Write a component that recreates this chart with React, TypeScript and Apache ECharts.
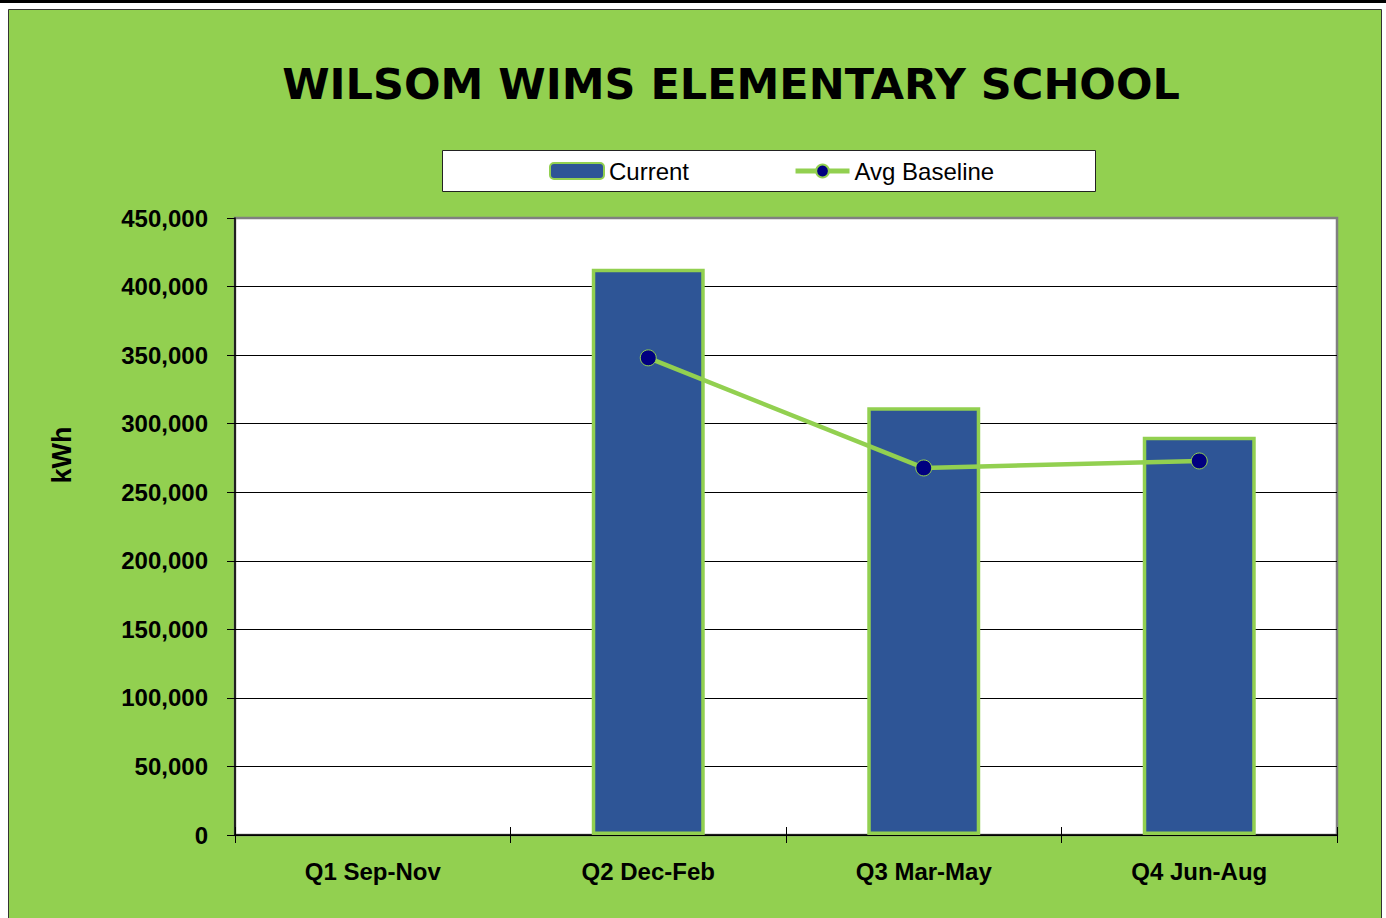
import React, { useEffect, useRef } from "react";
import * as echarts from "echarts";

const categories = ["Q1 Sep-Nov", "Q2 Dec-Feb", "Q3 Mar-May", "Q4 Jun-Aug"];
const currentValues = [null, 413000, 312000, 290500];
const baselineValues = [null, 348000, 267700, 272800];
const titleText = "WILSOM WIMS ELEMENTARY SCHOOL";
const yAxisName = "kWh";

export default function App() {
  const ref = useRef<HTMLDivElement>(null);
  useEffect(() => {
    document.body.style.margin = "0";
    const chart = echarts.init(ref.current!, null, { renderer: "svg" });
    const green = "#92D050";
    const labelFont = "'Liberation Sans Narrow', 'Liberation Sans', Arial";
    chart.setOption({
      animation: false,
      backgroundColor: "#ffffff",
      graphic: [
        { type: "rect", z: -10, shape: { x: 0, y: 0, width: 1386, height: 3 }, style: { fill: "#000" } },
        { type: "rect", z: -10, shape: { x: 8.5, y: 9.5, width: 1373, height: 912 }, style: { fill: green, stroke: "#333", lineWidth: 1 } },
        { type: "rect", z: -5, shape: { x: 442.5, y: 150.5, width: 653, height: 41 }, style: { fill: "#fff", stroke: "#222", lineWidth: 1 } },
        {
          type: "text", x: 731, y: 84,
          style: { text: titleText, font: "900 43px 'DejaVu Sans'", fill: "#000", textAlign: "center", textVerticalAlign: "middle" },
        },
        {
          type: "text", x: 62, y: 455, rotation: Math.PI / 2,
          style: { text: yAxisName, font: "bold 27px 'Liberation Sans', Arial", fill: "#000", textAlign: "center", textVerticalAlign: "middle" },
        },
      ],
      legend: {
        left: 544,
        top: 154,
        itemWidth: 54,
        itemHeight: 16,
        itemGap: 104,
        textStyle: { fontFamily: "'Liberation Sans', Arial", fontSize: 24, color: "#000" },
        data: [
          { name: "Current" },
          { name: "Avg Baseline", lineStyle: { width: 5 } },
        ],
      },
      grid: {
        left: 235, right: 49, top: 218, bottom: 83,
        show: true, backgroundColor: "#fff", borderColor: "#808080", borderWidth: 2.5,
      },
      xAxis: [
        {
          type: "category", data: categories,
          axisLine: { lineStyle: { color: "#000", width: 1.5 } },
          axisTick: { show: true, length: 8, lineStyle: { color: "#000" } },
          axisLabel: {
            margin: 24, color: "#000", fontFamily: labelFont,
            fontWeight: "bold", fontSize: 24,
          },
        },
        {
          type: "category", data: categories, position: "bottom",
          axisLine: { show: false },
          axisTick: { show: true, inside: true, length: 8, lineStyle: { color: "#000" } },
          axisLabel: { show: false },
        },
      ],
      yAxis: {
        type: "value", min: 0, max: 450000, interval: 50000,
        axisLine: { show: true, lineStyle: { color: "#000", width: 1.5 } },
        axisTick: { show: true, length: 8, lineStyle: { color: "#000" } },
        splitLine: { showMaxLine: false, lineStyle: { color: "#000", width: 1 } },
        axisLabel: {
          margin: 27, color: "#000", fontFamily: labelFont,
          fontWeight: "bold", fontSize: 24,
          formatter: (v: number) => v.toLocaleString("en-US"),
        },
      },
      series: [
        {
          name: "Current", type: "bar", data: currentValues, barWidth: "41%",
          itemStyle: { color: "#2E5596", borderColor: green, borderWidth: 3.5 },
        },
        {
          name: "Avg Baseline", type: "line", data: baselineValues,
          lineStyle: { color: green, width: 4.5 },
          symbol: "circle", symbolSize: 16,
          itemStyle: { color: "#000080", borderColor: green, borderWidth: 1 },
        },
      ],
    });
    return () => chart.dispose();
  }, []);
  return <div ref={ref} style={{ width: 1386, height: 918 }} />;
}
